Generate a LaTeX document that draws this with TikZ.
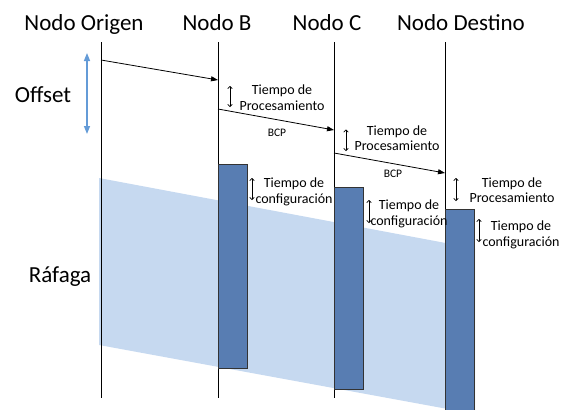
\documentclass[tikz,border=0pt]{standalone}
\usepackage{fontspec}
\setmainfont{Carlito}
\usetikzlibrary{arrows.meta}
\definecolor{bandblue}{RGB}{198,217,240}
\definecolor{rectblue}{RGB}{88,125,178}
\definecolor{offblue}{RGB}{100,155,215}
\begin{document}
\begin{tikzpicture}[x=1pt,y=-1pt,
  head/.style={font=\fontsize{23}{27}\selectfont, inner sep=0, anchor=base},
  small/.style={font=\fontsize{14}{15.5}\selectfont, align=center, inner sep=0},
  bcplabel/.style={font=\fontsize{11.5}{13}\selectfont, inner sep=0},
  lifeline/.style={line width=0.9pt, black},
  msg/.style={line width=0.8pt, -{Triangle[length=7pt,width=5pt]}},
  dur/.style={line width=0.7pt, {To[length=3pt,width=5pt]}-{To[length=3pt,width=5pt]}},
  slot/.style={draw=black!80, line width=0.8pt, fill=rectblue},
  offarrow/.style={offblue, line width=1.4pt, {Triangle[length=8pt,width=6pt]}-{Triangle[length=8pt,width=6pt]}},
  ]
\useasboundingbox (0,0) rectangle (566,410);
% burst band
\fill[bandblue] (99,178) -- (475,248.5) -- (475,414) -- (99,345) -- cycle;

% lifelines
\coordinate (Ot) at (101,42); \coordinate (Ob) at (101,398);
\coordinate (Bt) at (218,42); \coordinate (Bb) at (218,398);
\coordinate (Ct) at (334,42); \coordinate (Cb) at (334,398);
\coordinate (Dt) at (445,42); \coordinate (Db) at (445,410);
\draw[lifeline] (Ot) -- (Ob);
\draw[lifeline] (Bt) -- (Bb);
\draw[lifeline] (Ct) -- (Cb);
\draw[lifeline] (Dt) -- (Db);

% headers
\node[head] (hO) at (84,30.6) {Nodo Origen};
\node[head] (hB) at (217,30.6) {Nodo B};
\node[head] (hC) at (327,30.6) {Nodo C};
\node[head] (hD) at (461,30.6) {Nodo Destino};
\node[head] (off) at (43,102) {Offset};
\node[head] (raf) at (60,282) {Ráfaga};

% offset arrow
\coordinate (offT) at (87,53); \coordinate (offB) at (87,134);
\draw[offarrow] (offT) -- (offB);

% setup slots
\draw[slot] (218,164) rectangle (247,368);
\draw[slot] (334,187) rectangle (363.5,389.5);
\draw[slot] (445,209) rectangle (474,412);

% BCP messages
\coordinate (m1s) at (101,60); \coordinate (m1e) at (218,80);
\coordinate (m2s) at (218,109); \coordinate (m2e) at (334,130);
\coordinate (m3s) at (334,153); \coordinate (m3e) at (445,173);
\draw[msg] (m1s) -- (m1e);
\draw[msg] (m2s) -- (m2e);
\draw[msg] (m3s) -- (m3e);
\node[bcplabel] (bcp1) at (277,133) {BCP};
\node[bcplabel] (bcp2) at (393,173.5) {BCP};

% processing times
\coordinate (p1a) at (230,86); \coordinate (p1b) at (230,107);
\coordinate (p2a) at (346,129.5); \coordinate (p2b) at (346,151);
\coordinate (p3a) at (456,178); \coordinate (p3b) at (456,201);
\draw[dur] (p1a) -- (p1b);
\draw[dur] (p2a) -- (p2b);
\draw[dur] (p3a) -- (p3b);
\node[small] (tp1) at (282,97.8) {Tiempo de\\Procesamiento};
\node[small] (tp2) at (397,138.3) {Tiempo de\\Procesamiento};
\node[small] (tp3) at (512,190.4) {Tiempo de\\Procesamiento};

% configuration times
\coordinate (c1a) at (252,178); \coordinate (c1b) at (252,200);
\coordinate (c2a) at (369,200); \coordinate (c2b) at (369,223);
\coordinate (c3a) at (479,219); \coordinate (c3b) at (479,242);
\draw[dur] (c1a) -- (c1b);
\draw[dur] (c2a) -- (c2b);
\draw[dur] (c3a) -- (c3b);
\node[small] (tc1) at (294,192) {Tiempo de\\configuración};
\node[small] (tc2) at (409,214) {Tiempo de\\configuración};
\node[small] (tc3) at (521,234.6) {Tiempo de\\configuración};
\end{tikzpicture}
\end{document}
